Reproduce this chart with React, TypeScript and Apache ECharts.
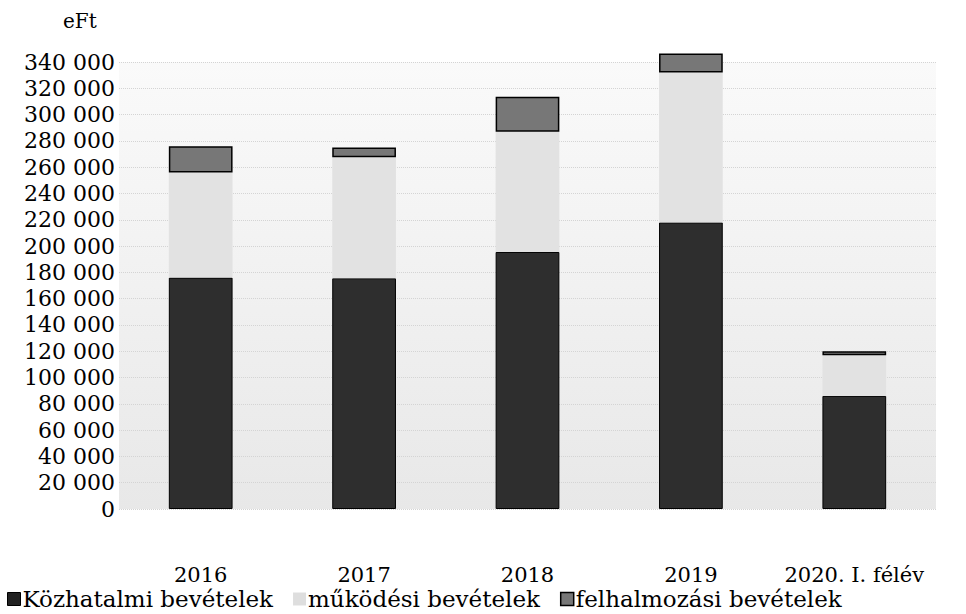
import React, { useEffect, useRef } from "react";
import * as echarts from "echarts";

const categories = ["2016", "2017", "2018", "2019", "2020. I. félév"];
const seriesNames = ["Közhatalmi bevételek", "működési bevételek", "felhalmozási bevételek"];
const kozhatalmi = [176000, 175500, 195500, 218000, 86000];
const mukodesi = [80000, 92000, 91500, 114000, 31000];
const felhalmozasi = [20000, 7500, 26500, 14500, 3000];
const yMin = 0;
const yMax = 340000;
const yInterval = 20000;
const unitLabel = "eFt";

const FONT = "DejaVu Serif";

function fmt(v: number): string {
  return String(v).replace(/\B(?=(\d{3})+(?!\d))/g, " ");
}

export default function App() {
  const ref = useRef<HTMLDivElement>(null);
  useEffect(() => {
    if (!ref.current) return;
    const chart = echarts.init(ref.current, null, { renderer: "svg" });
    chart.setOption({
      animation: false,
      backgroundColor: "#ffffff",
      textStyle: { fontFamily: FONT, color: "#000" },
      grid: {
        left: 119,
        right: 30,
        top: 62,
        bottom: 105,
        show: true,
        borderWidth: 0,
        backgroundColor: new echarts.graphic.LinearGradient(0, 0, 0, 1, [
          { offset: 0, color: "#fafafa" },
          { offset: 1, color: "#e8e8e8" },
        ]),
      },
      graphic: [
        {
          type: "text",
          left: 63,
          top: 11,
          style: { text: unitLabel, font: `20px '${FONT}'`, fill: "#000" },
        },
      ],
      legend: {
        bottom: 3,
        left: 2,
        padding: [0, 5, 0, 5],
        itemWidth: 13,
        itemHeight: 13,
        itemGap: 20,
        textStyle: { fontFamily: FONT, fontSize: 23, lineHeight: 24, color: "#000", padding: [0, 0, 0, -3] },
        data: [
          { name: seriesNames[0], icon: "rect", itemStyle: { color: "#222", borderColor: "#000", borderWidth: 1 } },
          { name: seriesNames[1], icon: "rect", itemStyle: { color: "#dedede", borderWidth: 0 } },
          { name: seriesNames[2], icon: "rect", itemStyle: { color: "#777", borderColor: "#000", borderWidth: 1.5 } },
        ],
      },
      xAxis: {
        type: "category",
        data: categories,
        axisLine: { show: false },
        axisTick: { show: false },
        axisLabel: { fontFamily: FONT, fontSize: 21, lineHeight: 21, color: "#000", margin: 55, interval: 0 },
      },
      yAxis: {
        type: "value",
        min: yMin,
        max: yMax,
        interval: yInterval,
        axisLine: { show: false },
        axisTick: { show: false },
        axisLabel: {
          fontFamily: FONT,
          fontSize: 22,
          color: "#000",
          margin: 4,
          formatter: (v: number) => fmt(v),
        },
        splitLine: { show: true, lineStyle: { color: "#d4d4d4", type: "dotted", width: 1 } },
      },
      series: [
        {
          name: seriesNames[0],
          type: "bar",
          stack: "total",
          barWidth: "39%",
          data: kozhatalmi,
          itemStyle: { color: "#2e2e2e", borderColor: "#000", borderWidth: 1 },
        },
        {
          name: seriesNames[1],
          type: "bar",
          stack: "total",
          data: mukodesi,
          itemStyle: { color: "#e2e2e2" },
        },
        {
          name: seriesNames[2],
          type: "bar",
          stack: "total",
          clip: false,
          data: felhalmozasi,
          itemStyle: { color: "#777777", borderColor: "#000", borderWidth: 1.5 },
        },
      ],
    });
    return () => chart.dispose();
  }, []);
  return (
    <div
      ref={ref}
      style={{ position: "fixed", left: 0, top: 0, width: 966, height: 614 }}
    />
  );
}
